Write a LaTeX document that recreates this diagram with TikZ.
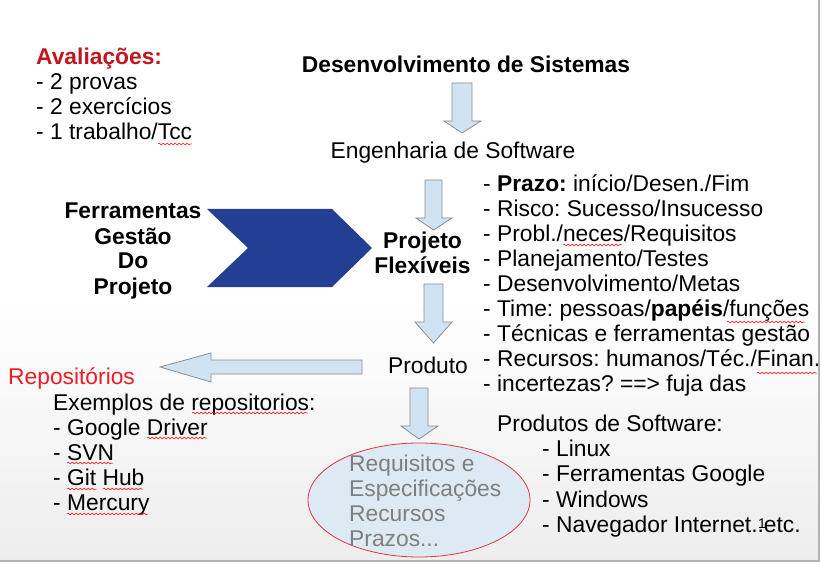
\documentclass[tikz,border=0pt]{standalone}
\usepackage{fontspec}
\setmainfont{Liberation Sans}
\frenchspacing
\usetikzlibrary{shapes.geometric,decorations.pathmorphing}
\definecolor{setaazul}{HTML}{D0E3F2}
\definecolor{setaborda}{HTML}{8C8C8C}
\definecolor{chevron}{HTML}{223F94}
\definecolor{vermelhoesc}{HTML}{C0161E}
\definecolor{vermelho}{HTML}{EE1C24}
\definecolor{elipsefundo}{HTML}{DDEAF3}
\definecolor{elipseborda}{HTML}{E23642}
\definecolor{cinzatexto}{HTML}{7F7F7F}
\tikzset{
  txt/.style={font=\fontsize{22.8}{25}\selectfont, inner sep=0pt, anchor=base west, align=left},
  txtc/.style={font=\fontsize{22.8}{25}\selectfont, inner sep=0pt, anchor=base, align=center},
  seta/.style={fill=setaazul, draw=setaborda, line width=0.8pt, line join=miter},
  squig/.style={draw=red, line width=0.5pt, decorate, decoration={snake, amplitude=0.9pt, segment length=4pt}}
}
\begin{document}
\begin{tikzpicture}[x=1pt,y=-1pt]
\useasboundingbox (0,0) rectangle (822,564);
% fundo do slide
\fill[white] (0,0) rectangle (822,564);
\shade[top color=white, bottom color=black!7] (0,300) rectangle (819,561);
\draw[black!30, line width=2pt] (819,0) -- (819,561) -- (0,561);
% avaliacoes (base = ultima linha)
\node[txt, text=vermelhoesc, font=\fontsize{22.8}{25}\selectfont\bfseries] (aval) at (36,65) {Avaliações:};
\node[txt] (provas) at (36,140) {- 2 provas\\- 2 exercícios\\- 1 trabalho/Tcc};
% eixo central
\node[txtc, font=\fontsize{22.8}{25}\selectfont\bfseries] (desenv) at (466,73) {Desenvolvimento de Sistemas};
\draw[seta] (452,83) -- (472,83) -- (472,121) -- (481,121) -- (462,133) -- (444,121) -- (452,121) -- cycle;
\node[txtc] (eng) at (453,159) {Engenharia de Software};
\draw[seta] (425,180) -- (442,180) -- (442,218) -- (452,218) -- (433.5,230) -- (416,218) -- (425,218) -- cycle;
\node[txtc, font=\fontsize{22.8}{25}\selectfont\bfseries] (proj) at (422.5,273) {Projeto\\Flexíveis};
\draw[seta] (424,284) -- (443,284) -- (443,322) -- (452,322) -- (433.5,343) -- (415,322) -- (424,322) -- cycle;
\node[txtc] (prod) at (428,373) {Produto};
\draw[seta] (410,388) -- (428,388) -- (428,426) -- (438,426) -- (419,439) -- (401,426) -- (410,426) -- cycle;
\node[draw=elipseborda, fill=elipsefundo, ellipse, minimum width=222pt, minimum height=114pt, line width=0.8pt] (elipse) at (419,500) {};
\node[txt, text=cinzatexto] (req) at (349,546) {Requisitos e\\Especificações\\Recursos\\Prazos...};
% ferramentas
\node[txtc, font=\fontsize{22.8}{25}\selectfont\bfseries] (ferr) at (133,294) {Ferramentas\\Gestão\\Do\\Projeto};
\fill[chevron] (207,209) -- (332,209) -- (372,248) -- (332,287) -- (207,287) -- (248,248) -- cycle;
% lista da direita
\node[txt] (lista) at (483,391) {- \textbf{Prazo:} início/Desen./Fim\\- Risco: Sucesso/Insucesso\\- Probl./neces/Requisitos\\- Planejamento/Testes\\- Desenvolvimento/Metas\\- Time: pessoas/\textbf{papéis}/funções\\- Técnicas e ferramentas gestão\\- Recursos: humanos/Téc./Finan.\\- incertezas? ==> fuja das};
\node[txt] (produtos) at (497,431) {Produtos de Software:};
\node[txt, font=\fontsize{22.8}{25.5}\selectfont] (exprod) at (542,532.5) {- Linux\\- Ferramentas Google\\- Windows\\- Navegador Internet..etc.};
\node[inner sep=0pt, anchor=base west, font=\fontsize{14}{16}\selectfont] (num) at (758,528) {1};
% repositorios
\draw[seta] (362,360) -- (362,374) -- (211,374) -- (211,382) -- (160,367) -- (211,353) -- (211,360) -- cycle;
\node[txt, text=vermelho] (repo) at (8,384) {Repositórios};
\node[txt] (exemplos) at (53,510) {Exemplos de repositorios:\\- Google Driver\\- SVN\\- Git Hub\\- Mercury};
% sublinhados do corretor
\draw[squig] (158,144) -- (192,144);
\draw[squig] (563,245) -- (622,245);
\draw[squig] (727,322) -- (805,322);
\draw[squig] (757,373) -- (817,373);
\draw[squig] (192,413) -- (308,413);
\draw[squig] (147,438) -- (207,438);
\draw[squig] (67,463) -- (113,463);
\draw[squig] (67,489) -- (97,489);
\draw[squig] (103,489) -- (143,489);
\draw[squig] (67,514) -- (148,514);
\end{tikzpicture}
\end{document}
